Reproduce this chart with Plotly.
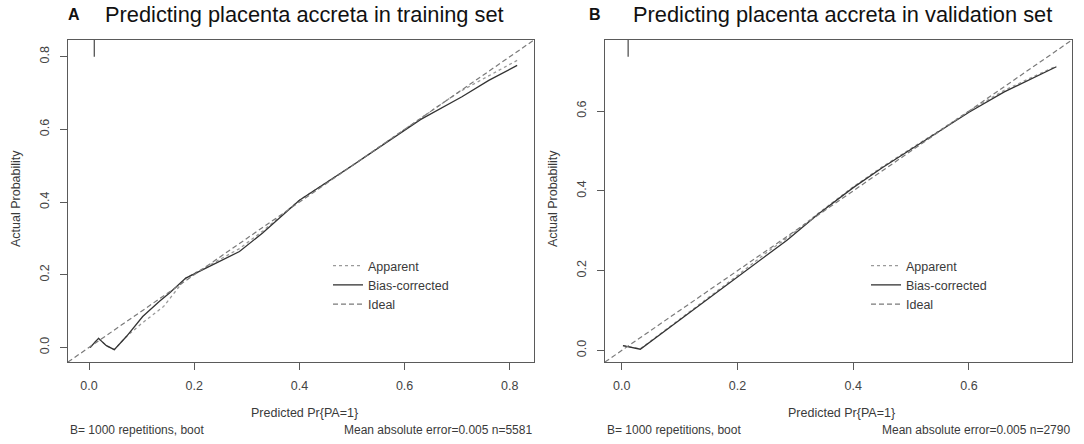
import plotly.graph_objects as go
from plotly.subplots import make_subplots

# ---- panel A: training set ----
app_a_x = [0.002, 0.018, 0.033, 0.048, 0.071, 0.100, 0.142, 0.165, 0.184, 0.241, 0.286, 0.330, 0.40, 0.50, 0.60, 0.70, 0.814]
app_a_y = [0.000, 0.025, 0.005, -0.006, 0.030, 0.066, 0.113, 0.155, 0.191, 0.236, 0.272, 0.320, 0.405, 0.50, 0.600, 0.700, 0.790]
bc_a_x = [0.002, 0.018, 0.033, 0.048, 0.071, 0.102, 0.134, 0.153, 0.184, 0.241, 0.286, 0.330, 0.40, 0.50, 0.60, 0.63, 0.709, 0.76, 0.814]
bc_a_y = [0.000, 0.025, 0.005, -0.006, 0.030, 0.085, 0.127, 0.150, 0.191, 0.232, 0.264, 0.315, 0.405, 0.50, 0.598, 0.627, 0.690, 0.735, 0.776]
lim_a = [-0.040, 0.846]
spike_a_x = [0.010, 0.010]
spike_a_y = [0.800, 0.900]

# ---- panel B: validation set ----
app_b_x = [0.002, 0.018, 0.032, 0.10, 0.193, 0.25, 0.286, 0.338, 0.40, 0.45, 0.50, 0.55, 0.60, 0.661, 0.751]
app_b_y = [0.012, 0.008, 0.004, 0.078, 0.180, 0.245, 0.282, 0.342, 0.410, 0.460, 0.505, 0.552, 0.600, 0.652, 0.713]
bc_b_x = [0.002, 0.018, 0.032, 0.10, 0.193, 0.25, 0.286, 0.338, 0.40, 0.45, 0.50, 0.55, 0.60, 0.661, 0.751]
bc_b_y = [0.012, 0.008, 0.003, 0.076, 0.177, 0.238, 0.277, 0.340, 0.408, 0.458, 0.505, 0.550, 0.597, 0.648, 0.711]
lim_b = [-0.029, 0.778]
spike_b_x = [0.011, 0.011]
spike_b_y = [0.736, 0.800]

ticks_a = [0.0, 0.2, 0.4, 0.6, 0.8]
ticks_b = [0.0, 0.2, 0.4, 0.6]

titles = ["Predicting placenta accreta in training set", "Predicting placenta accreta in validation set"]
letters = ["A", "B"]
n_obs = [5581, 2790]

W, H = 1084, 444
FONT = "Liberation Sans, Arial, sans-serif"
TXT = "#3a3a3a"

# pixel boxes of the two plot regions
box = [(68, 534, 40, 362), (605, 1072, 40, 362)]


def px(x):
    return x / W


def py(y):
    return 1 - y / H


fig = make_subplots(rows=1, cols=2)

panels = [
    (app_a_x, app_a_y, bc_a_x, bc_a_y, lim_a, spike_a_x, spike_a_y, ticks_a),
    (app_b_x, app_b_y, bc_b_x, bc_b_y, lim_b, spike_b_x, spike_b_y, ticks_b),
]

for i, (ax_, ay_, bx_, by_, lim, sx, sy, ticks) in enumerate(panels):
    col = i + 1
    leg = "legend" if i == 0 else "legend2"
    fig.add_trace(go.Scatter(x=ax_, y=ay_, mode="lines", name="Apparent",
                             line=dict(color="#9a9a9a", width=1.3, dash="dot"),
                             legend=leg), row=1, col=col)
    fig.add_trace(go.Scatter(x=bx_, y=by_, mode="lines", name="Bias-corrected",
                             line=dict(color="#333333", width=1.3),
                             legend=leg), row=1, col=col)
    fig.add_trace(go.Scatter(x=lim, y=lim, mode="lines", name="Ideal",
                             line=dict(color="#7a7a7a", width=1.2, dash="5px,3px"),
                             legend=leg), row=1, col=col)
    fig.add_trace(go.Scatter(x=sx, y=sy, mode="lines", showlegend=False,
                             line=dict(color="#555555", width=1.3)), row=1, col=col)

    l, r, t, b = box[i]
    axis_common = dict(range=lim, tickvals=ticks, tickformat=".1f",
                       showgrid=False, zeroline=False,
                       showline=True, mirror=True, linecolor="#5a5a5a", linewidth=1,
                       ticks="outside", ticklen=7, tickcolor="#5a5a5a",
                       tickfont=dict(family=FONT, size=12.5, color="#444444"))
    fig.update_xaxes(domain=[px(l), px(r)], ticklabelstandoff=5, **axis_common, row=1, col=col)
    fig.update_yaxes(domain=[py(b), py(t)], tickangle=-90, ticklabelstandoff=6,
                     **axis_common, row=1, col=col)

    cx = (l + r) / 2
    cy = (t + b) / 2
    anns = [
        dict(text=f"<b>{letters[i]}</b>", x=px(l + 6 if i == 0 else l - 10), y=py(15),
             font=dict(size=16, color="#111111")),
        dict(text=titles[i], x=px(l + 35 if i == 0 else l + 26), y=py(15), xanchor="left",
             font=dict(size=21.8, color="#111111")),
        dict(text="Predicted Pr{PA=1}", x=px(cx + 3), y=py(413),
             font=dict(size=12.5, color=TXT)),
        dict(text="Actual Probability", x=px(l - 52), y=py(cy - 2), textangle=-90,
             font=dict(size=12.5, color=TXT)),
        dict(text="B= 1000 repetitions, boot", x=px(l), y=py(430), xanchor="left",
             font=dict(size=12, color=TXT)),
        dict(text=f"Mean absolute error=0.005 n={n_obs[i]}", x=px(r), y=py(430),
             xanchor="right", font=dict(size=12, color=TXT)),
    ]
    for a in anns:
        a.setdefault("xanchor", "center")
        fig.add_annotation(xref="paper", yref="paper", yanchor="middle",
                           showarrow=False, font_family=FONT, **a)

legend_style = dict(font=dict(family=FONT, size=12.5, color=TXT), bgcolor="rgba(0,0,0,0)",
                    borderwidth=0, tracegroupgap=0, xanchor="left", yanchor="top",
                    itemwidth=30)

fig.update_layout(
    width=W, height=H,
    margin=dict(l=0, r=0, t=0, b=0),
    paper_bgcolor="white", plot_bgcolor="white",
    font=dict(family=FONT, color=TXT),
    legend=dict(x=px(328), y=py(251), **legend_style),
    legend2=dict(x=px(866), y=py(251), **legend_style),
)

# drop the browser's default 8px body margin so the figure fills the window
fig.write_html("out.html", config={"displayModeBar": False},
               post_script="document.body.style.margin = '0';")
